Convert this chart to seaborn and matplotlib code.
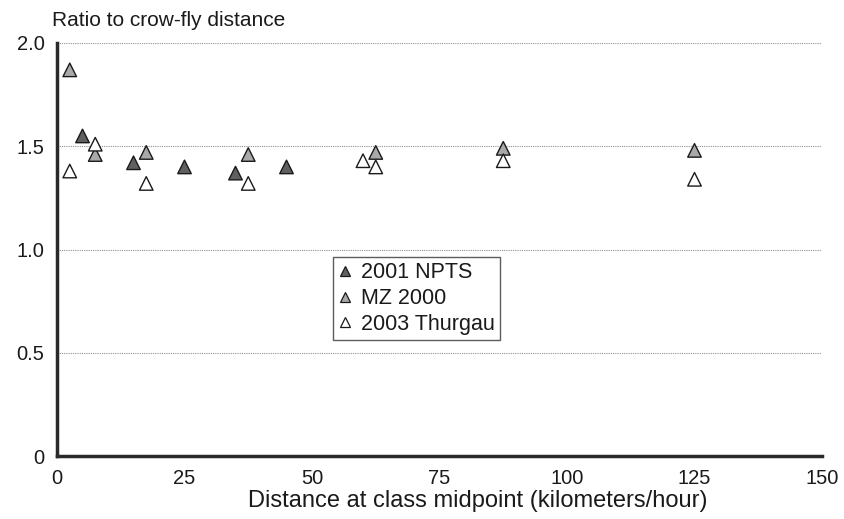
import matplotlib
matplotlib.use("Agg")
import matplotlib.pyplot as plt
import seaborn as sns
import pandas as pd
from matplotlib.lines import Line2D

npts_x = [5, 15, 25, 35, 45]
npts_y = [1.55, 1.42, 1.40, 1.37, 1.40]
mz_x = [2.5, 7.5, 17.5, 37.5, 62.5, 87.5, 125]
mz_y = [1.87, 1.46, 1.47, 1.46, 1.47, 1.49, 1.48]
thg_x = [2.5, 7.5, 17.5, 37.5, 60, 62.5, 87.5, 125]
thg_y = [1.38, 1.51, 1.32, 1.32, 1.43, 1.40, 1.43, 1.34]
series = ["2001 NPTS", "MZ 2000", "2003 Thurgau"]
colors = ["#606060", "#a9a9a9", "#ffffff"]
xticks = [0, 25, 50, 75, 100, 125, 150]
yticks = [0, 0.5, 1.0, 1.5, 2.0]
yticklabels = ["0", "0.5", "1.0", "1.5", "2.0"]

df = pd.concat([
    pd.DataFrame({"x": npts_x, "y": npts_y, "s": series[0]}),
    pd.DataFrame({"x": mz_x, "y": mz_y, "s": series[1]}),
    pd.DataFrame({"x": thg_x, "y": thg_y, "s": series[2]}),
])

sns.set_style("white")
plt.rcParams["font.family"] = ["Liberation Sans", "DejaVu Sans"]

fig = plt.figure(figsize=(8.45, 5.19), dpi=100)
ax = fig.add_axes([57/845, 1-456/519, 765/845, 413/519])

for yv in yticks[1:]:
    ax.axhline(yv, color="#909090", linestyle=(0, (1, 1)), linewidth=0.8, zorder=0)

sns.scatterplot(data=df, x="x", y="y", hue="s", hue_order=series,
                palette=dict(zip(series, colors)), marker="^", s=95,
                edgecolor="#1a1a1a", linewidth=1.0, ax=ax, legend=False, zorder=3)

ax.set_xlim(0, 150)
ax.set_ylim(0, 2.0)
ax.set_xticks(xticks)
ax.set_xticklabels([str(v) for v in xticks], fontsize=14.5, color="#1a1a1a")
ax.set_yticks(yticks)
ax.set_yticklabels(yticklabels, fontsize=14.5, color="#1a1a1a")
ax.tick_params(axis="x", direction="in", length=10, width=0.8, color="#333333", pad=9)
ax.tick_params(axis="y", length=0, pad=9)
ax.set_xlabel("Distance at class midpoint (kilometers/hour)", fontsize=17,
              color="#1a1a1a")
ax.xaxis.set_label_coords((478-57)/765, -(501-456)/413)
ax.xaxis.label.set_va("center")
ax.set_ylabel("")
for sp in ["top", "right"]:
    ax.spines[sp].set_visible(False)
for sp in ["left", "bottom"]:
    ax.spines[sp].set_linewidth(2.5)
    ax.spines[sp].set_color("#2a2a2a")

fig.text(52/845, 1-21/519, "Ratio to crow-fly distance", fontsize=15, va="center",
         ha="left", color="#1a1a1a")

handles = [Line2D([], [], linestyle="none", marker="^", markersize=7.5,
                  markerfacecolor=c, markeredgecolor="#1a1a1a", markeredgewidth=0.9)
           for c in colors]
leg = ax.legend(handles, series, loc="upper left",
                bbox_to_anchor=((333-57)/765, (456-257)/413), fontsize=15.5,
                frameon=True, fancybox=False, edgecolor="#333333",
                handlelength=0.6, handletextpad=0.45, borderpad=0.25,
                labelspacing=0.22, borderaxespad=0)
for t in leg.get_texts():
    t.set_color("#1a1a1a")
leg.get_frame().set_linewidth(1.0)

fig.savefig("out.png", dpi=100)
